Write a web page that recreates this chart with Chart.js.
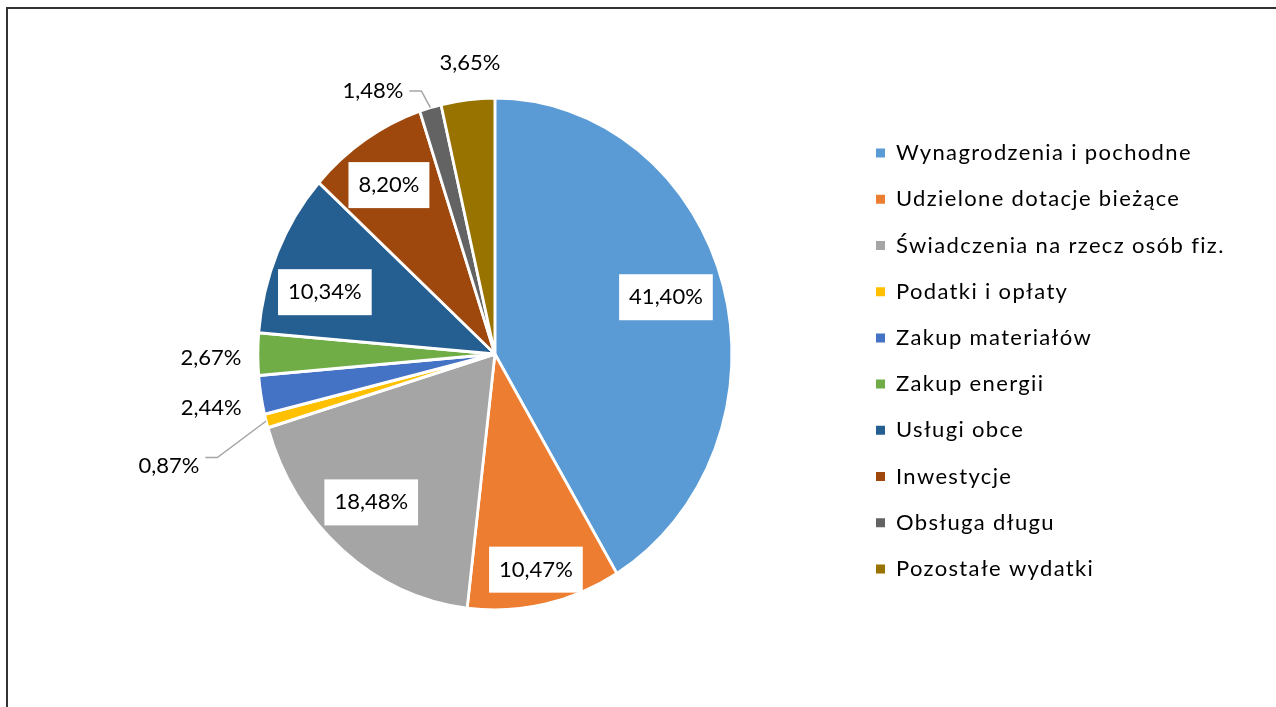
<!DOCTYPE html>
<html>
<head>
<meta charset="utf-8">
<script src="https://cdn.jsdelivr.net/npm/chart.js@4.4.0/dist/chart.umd.min.js"></script>
<style>
html, body { margin: 0; padding: 0; background: #fff; overflow: hidden; }
#frame { position: absolute; left: 6px; top: 7px; width: 1400px; height: 800px; border: 2px solid #333; }
#c { position: absolute; left: 0; top: 0; }
</style>
</head>
<body>
<div id="frame"></div>
<canvas id="c" width="1276" height="707"></canvas>
<script>
const categories = ['Wynagrodzenia i pochodne', 'Udzielone dotacje bieżące', 'Świadczenia na rzecz osób fiz.',
    'Podatki i opłaty', 'Zakup materiałów', 'Zakup energii', 'Usługi obce', 'Inwestycje', 'Obsługa długu',
    'Pozostałe wydatki'];
const shares = [41.40, 10.47, 18.48, 0.87, 2.44, 2.67, 10.34, 8.20, 1.48, 3.65];
const colors = ['#5b9bd5', '#ed7d31', '#a5a5a5', '#ffc000', '#4472c4', '#70ad47', '#255e91', '#9e480e', '#636363', '#997300'];

// where each percentage goes: f = share of the radius, da = angle shift (deg), box = white box, lead = leader line
const placing = [
    {f: 0.755, da: -1.6, box: true},
    {f: 0.86, da: 0.5, box: true},
    {f: 0.78, da: 2, box: true},
    {f: 1.443, da: -2.4, lead: -8},
    {f: 1.216, da: -0.8},
    {f: 1.198, da: -0.7},
    {f: 0.757, da: -4.8, box: true},
    {f: 0.797, da: -0.9, box: true},
    {f: 1.149, da: -10.8, lead: 0},
    {f: 1.142, da: 1.3}
];

const FONT = 'Lato';
const LEGEND_SPACING = '1.35px';
const squash = 237 / 256; // pie in the picture is a bit narrower than tall

const fmt = v => v.toFixed(2).replace('.', ',') + '%';

const pieLabels = {
    id: 'pieLabels',
    beforeUpdate(chart) {
        // legend text in the original is spread out a little
        chart.ctx.letterSpacing = LEGEND_SPACING;
    },
    beforeDatasetsDraw(chart) {
        const ctx = chart.ctx;
        const cx = (chart.chartArea.left + chart.chartArea.right) / 2;
        ctx.save();
        ctx.translate(cx, 0);
        ctx.scale(squash, 1);
        ctx.translate(-cx, 0);
    },
    afterDatasetsDraw(chart) {
        const ctx = chart.ctx;
        ctx.restore();
        const arcs = chart.getDatasetMeta(0).data;
        ctx.save();
        ctx.letterSpacing = '0px';
        ctx.font = '22px ' + FONT;
        ctx.textAlign = 'center';
        ctx.textBaseline = 'middle';
        arcs.forEach((arc, i) => {
            const p = placing[i];
            const r = arc.outerRadius;
            const mid = (arc.startAngle + arc.endAngle) / 2;
            const a = mid + p.da * Math.PI / 180;
            const x = arc.x + Math.cos(a) * r * p.f * squash;
            const y = arc.y + Math.sin(a) * r * p.f;
            const txt = fmt(shares[i]);
            const w = ctx.measureText(txt).width;
            if (p.box) {
                ctx.fillStyle = '#fff';
                ctx.fillRect(x - w / 2 - 10, y - 23, w + 20, 46);
            }
            if (p.lead !== undefined) {
                const ex = arc.x + Math.cos(mid) * r * squash;
                const ey = arc.y + Math.sin(mid) * r;
                const ly = y + p.lead;
                ctx.strokeStyle = '#a5a5a5';
                ctx.lineWidth = 1.5;
                ctx.beginPath();
                ctx.moveTo(x + w / 2 + 6, ly);
                ctx.lineTo(x + w / 2 + 18, ly);
                ctx.lineTo(ex, ey);
                ctx.stroke();
            }
            ctx.fillStyle = '#000';
            ctx.fillText(txt, x, y);
        });
        ctx.restore();
    }
};

// room for the legend so that the pie centre lands where it should
const m = document.createElement('canvas').getContext('2d');
m.font = '22px ' + FONT;
m.letterSpacing = LEGEND_SPACING;
const longest = Math.max(...categories.map(t => m.measureText(t).width));
const legendW = 24 + 9 + 11 + longest + 10;
const padRight = 1276 - 852 - legendW;

new Chart(document.getElementById('c'), {
    type: 'pie',
    data: {
        labels: categories,
        datasets: [{
            data: shares,
            backgroundColor: colors,
            borderColor: '#fff',
            borderWidth: 3
        }]
    },
    plugins: [pieLabels],
    options: {
        responsive: false,
        animation: false,
        devicePixelRatio: 1,
        layout: {
            padding: {left: 138, top: 96.5, bottom: 95.5, right: padRight}
        },
        plugins: {
            tooltip: {enabled: false},
            legend: {
                position: 'right',
                align: 'center',
                // empty title only pushes the list down a few pixels
                title: {display: true, text: '', padding: 0, font: {size: 1, lineHeight: '14px'}},
                labels: {
                    boxWidth: 9,
                    boxHeight: 9,
                    padding: 24.2,
                    color: '#000',
                    font: {family: FONT, size: 22},
                    generateLabels: chart => Chart.overrides.pie.plugins.legend.labels.generateLabels(chart)
                        .map(item => ({...item, lineWidth: 0}))
                }
            }
        }
    }
});
</script>
</body>
</html>
